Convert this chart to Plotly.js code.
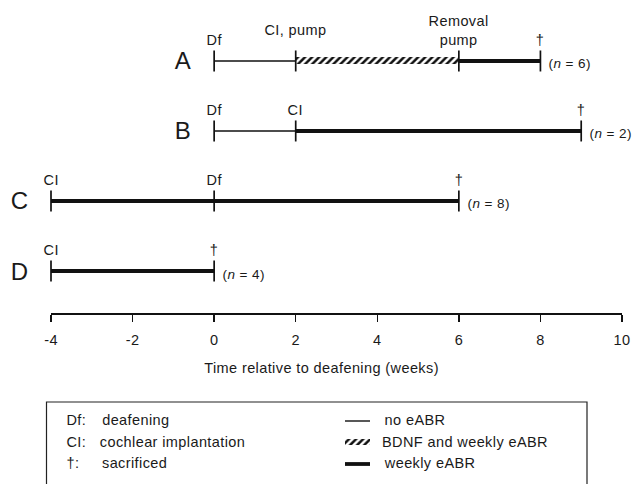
<!DOCTYPE html>
<html>
<head>
<meta charset="utf-8">
<script src="https://cdn.plot.ly/plotly-3.0.1.min.js"></script>
<style>
html,body{margin:0;padding:0;background:#fff;}
#chart{width:633px;height:484px;}
#chart svg text{letter-spacing:0.4px;}
</style>
</head>
<body>
<div id="chart"></div>
<script>
// ---- data ----
const categories = ['A', 'B', 'C', 'D'];
const nAnimals = [6, 2, 8, 4];

const segGroup = ['A', 'A', 'A', 'B', 'B', 'C', 'D'];
const segStart = [0, 2, 6, 0, 2, -4, -4];
const segEnd   = [2, 6, 8, 2, 9, 6, 0];
const segType  = ['none', 'bdnf', 'weekly', 'none', 'weekly', 'weekly', 'weekly'];

const evGroup = ['A', 'A', 'A', 'A', 'B', 'B', 'B', 'C', 'C', 'C', 'D', 'D'];
const evTime  = [0, 2, 6, 8, 0, 2, 9, -4, 0, 6, -4, 0];
const evLabel = ['Df', 'CI, pump', 'Removal<br>pump', '†', 'Df', 'CI', '†', 'CI', 'Df', '†', 'CI', '†'];

const tickVals = [-4, -2, 0, 2, 4, 6, 8, 10];
const tickLabels = ['-4', '-2', '0', '2', '4', '6', '8', '10'];
const xTitle = 'Time relative to deafening (weeks)';

const legendAbbr = ['Df:', 'CI:', '†:'];
const legendAbbrText = ['deafening', 'cochlear implantation', 'sacrificed'];
const legendLineText = ['no eABR', 'BDNF and weekly eABR', 'weekly eABR'];
const legendLineType = ['none', 'bdnf', 'weekly'];

// ---- styles ----
const FONT = '"Liberation Sans", Arial, sans-serif';
const TXT = '#1a1a1a';
const FS = 14.5;
const lineWidth = { none: 1.4, weekly: 3.8 };
const hatch = { shape: '/', fgcolor: '#111', bgcolor: 'white', size: 5, solidity: 0.5, fillmode: 'replace' };
const labelLift = { 'CI, pump': 10 };

const row = g => categories.indexOf(g);
const W = 633, H = 484;
const px = v => v / W, py = v => 1 - v / H;
const font = (s) => ({ family: FONT, size: s || FS, color: TXT });

const traces = [];
// segments
segGroup.forEach((g, i) => {
  if (segType[i] === 'bdnf') {
    traces.push({
      type: 'bar', orientation: 'h',
      y: [row(g)], x: [segEnd[i] - segStart[i]], base: [segStart[i]],
      width: 0.1,
      marker: { color: 'white', pattern: hatch, line: { width: 0 } },
      showlegend: false, hoverinfo: 'skip'
    });
  } else {
    traces.push({
      type: 'scatter', mode: 'lines',
      x: [segStart[i], segEnd[i]], y: [row(g), row(g)],
      line: { color: '#111', width: lineWidth[segType[i]] },
      showlegend: false, hoverinfo: 'skip'
    });
  }
});
// event ticks
traces.push({
  type: 'scatter', mode: 'markers',
  x: evTime, y: evGroup.map(row),
  marker: { symbol: 'line-ns', size: 15, color: '#111', line: { color: '#111', width: 1.7 } },
  showlegend: false, hoverinfo: 'skip', cliponaxis: false
});
// legend hatched sample (small bar on its own axes)
traces.push({
  type: 'bar', orientation: 'h', xaxis: 'x2', yaxis: 'y2',
  y: [0.5], x: [1], base: [0], width: 0.5,
  marker: { color: 'white', pattern: hatch, line: { width: 0 } },
  showlegend: false, hoverinfo: 'skip'
});

const annotations = [];
// event labels
evGroup.forEach((g, i) => {
  annotations.push({
    xref: 'x', yref: 'y', x: evTime[i], y: row(g),
    xanchor: 'center', yanchor: 'bottom', yshift: 11 + (labelLift[evLabel[i]] || 0),
    text: evLabel[i], showarrow: false, font: font()
  });
});
// row letters and n labels
categories.forEach((g, k) => {
  const starts = segStart.filter((s, i) => segGroup[i] === g);
  const ends = segEnd.filter((s, i) => segGroup[i] === g);
  annotations.push({
    xref: 'x', yref: 'y', x: Math.min(...starts), y: k,
    xanchor: 'right', yanchor: 'middle', xshift: -21, yshift: 0,
    text: g, showarrow: false, font: font(24)
  });
  annotations.push({
    xref: 'x', yref: 'y', x: Math.max(...ends), y: k,
    xanchor: 'left', yanchor: 'middle', xshift: 8, yshift: -3,
    text: '(<i>n</i> = ' + nAnimals[k] + ')', showarrow: false, font: font(13.5)
  });
});
// x-axis title
annotations.push({
  xref: 'paper', yref: 'paper', x: px(321), y: py(368), xanchor: 'center', yanchor: 'middle',
  text: xTitle, showarrow: false, font: font()
});
// legend box texts
const legRows = [420, 442, 463];
legendAbbr.forEach((t, i) => {
  annotations.push({ xref: 'paper', yref: 'paper', x: px(65), y: py(legRows[i]), xanchor: 'left', yanchor: 'middle',
    text: t, showarrow: false, font: font() });
  annotations.push({ xref: 'paper', yref: 'paper', x: px(102), y: py(legRows[i]), xanchor: 'left', yanchor: 'middle',
    text: legendAbbrText[i], showarrow: false, font: font() });
  annotations.push({ xref: 'paper', yref: 'paper', x: px(384), y: py(legRows[i]), xanchor: 'left', yanchor: 'middle',
    text: legendLineText[i], showarrow: false, font: font() });
});

const shapes = [
  { type: 'rect', xref: 'paper', yref: 'paper', x0: px(46.5), x1: px(587), y0: py(520), y1: py(402),
    line: { color: '#222', width: 1.2 }, fillcolor: 'rgba(0,0,0,0)' }
];
legendLineType.forEach((t, i) => {
  if (t === 'bdnf') return;
  shapes.push({ type: 'line', xref: 'paper', yref: 'paper', x0: px(345), x1: px(370), y0: py(legRows[i] + 1), y1: py(legRows[i] + 1),
    line: { color: '#111', width: lineWidth[t] } });
});

const layout = {
  width: W, height: H,
  margin: { l: 0, r: 0, t: 0, b: 0 },
  paper_bgcolor: 'white', plot_bgcolor: 'white',
  showlegend: false, hovermode: false,
  font: font(),
  bargap: 0,
  xaxis: {
    domain: [px(51), px(622)], anchor: 'y',
    range: [-4, 10], tickvals: tickVals, ticktext: tickLabels,
    ticks: 'outside', ticklen: 7, tickwidth: 1.5, tickcolor: '#111',
    ticklabelstandoff: 6,
    showline: true, linecolor: '#111', linewidth: 1.5,
    showgrid: false, zeroline: false, fixedrange: true,
    tickfont: font()
  },
  yaxis: {
    domain: [py(313), 1], anchor: 'x',
    range: [3.6, -0.871], visible: false, showgrid: false, zeroline: false, fixedrange: true
  },
  xaxis2: { domain: [px(345), px(370)], range: [0, 1], visible: false, anchor: 'y2', fixedrange: true },
  yaxis2: { domain: [py(448), py(436)], range: [0, 1], visible: false, anchor: 'x2', fixedrange: true },
  annotations: annotations,
  shapes: shapes
};

Plotly.newPlot('chart', traces, layout, { staticPlot: true, displayModeBar: false });
</script>
</body>
</html>
